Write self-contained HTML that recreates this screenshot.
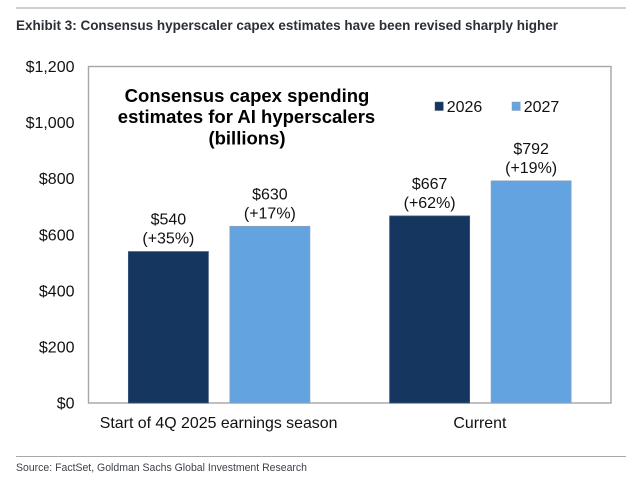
<!DOCTYPE html>
<html>
<head>
<meta charset="utf-8">
<title>Exhibit 3</title>
<style>
html,body{margin:0;padding:0;background:#fff;width:640px;height:493px;overflow:hidden}
svg{display:block;font-family:"Liberation Sans",sans-serif}
</style>
</head>
<body>
<svg id="chart" width="640" height="493" viewBox="0 0 640 493" xmlns="http://www.w3.org/2000/svg">
  <rect width="640" height="493" fill="#ffffff"/>
  <line x1="16" x2="626" y1="8" y2="8" stroke="#b5b5b5" stroke-width="1.2"/>
  <text x="16" y="30" font-size="14" font-weight="700" fill="#2b2f38" textLength="542" lengthAdjust="spacingAndGlyphs">Exhibit 3: Consensus hyperscaler capex estimates have been revised sharply higher</text>
  <rect x="88.5" y="66.5" width="522.5" height="336.5" fill="#ffffff" stroke="#a6a6a6" stroke-width="1.4"/>
  <g id="y-axis"></g>
  <g id="bars"></g>
  <g id="labels"></g>
  <g id="x-axis"></g>
  <g font-size="18.5" font-weight="700" fill="#000000" text-anchor="middle">
    <text x="247" y="102">Consensus capex spending</text>
    <text x="246.5" y="123">estimates for AI hyperscalers</text>
    <text x="247" y="144.5">(billions)</text>
  </g>
  <g id="legend"></g>
  <line x1="16" x2="626" y1="456.5" y2="456.5" stroke="#a8a8a8" stroke-width="1"/>
  <text x="16" y="471" font-size="11" fill="#3f434b" textLength="291" lengthAdjust="spacingAndGlyphs">Source: FactSet, Goldman Sachs Global Investment Research</text>
</svg>
<script>
const categories = ['Start of 4Q 2025 earnings season', 'Current'];
const seriesNames = ['2026', '2027'];
const values2026 = [540, 667];
const values2027 = [630, 792];
const changes2026 = ['+35%', '+62%'];
const changes2027 = ['+17%', '+19%'];
const yTicks = [0, 200, 400, 600, 800, 1000, 1200];

const NS = 'http://www.w3.org/2000/svg';
const plot = { left: 88.5, right: 611, top: 66.5, bottom: 403 };
const colors = ['#14365f', '#62a3e0'];
const strokes = ['#3f5a7c', '#8aa0b8'];
const yMax = yTicks[yTicks.length - 1];
const barWidth = 80;
const barStep = 101.5;

function yScale(v) {
  return plot.bottom - (v / yMax) * (plot.bottom - plot.top);
}
function xCategory(i) {
  return plot.left + (plot.right - plot.left) * (i + 0.5) / categories.length;
}
function xBar(i, s) {
  return xCategory(i) + (s - 0.5) * barStep - barWidth / 2;
}
function make(tag, attrs, text) {
  const el = document.createElementNS(NS, tag);
  for (const k in attrs) el.setAttribute(k, attrs[k]);
  if (text !== undefined) el.textContent = text;
  return el;
}
function fmtMoney(v) {
  return '$' + v.toLocaleString('en-US');
}

const yAxis = document.getElementById('y-axis');
yTicks.forEach(function (t) {
  const el = make('text', { x: 74.5, y: yScale(t) + 5.5, 'font-size': 16, 'text-anchor': 'end', fill: '#111111' }, fmtMoney(t));
  
  
  yAxis.appendChild(el);
});

const barsG = document.getElementById('bars');
const labelsG = document.getElementById('labels');
[values2026, values2027].forEach(function (vals, s) {
  const changes = s === 0 ? changes2026 : changes2027;
  vals.forEach(function (v, i) {
    const x = xBar(i, s);
    const y = yScale(v);
    const bar = make('rect', { x: x, y: y, width: barWidth, height: plot.bottom - y, fill: colors[s], stroke: strokes[s], 'stroke-width': 0.8 });
    
    
    barsG.appendChild(bar);

    const cx = x + barWidth / 2;
    const val = make('text', { x: cx, y: y - 27, 'font-size': 16, 'text-anchor': 'middle', fill: '#111111' }, fmtMoney(v));
    
    
    labelsG.appendChild(val);

    const chg = make('text', { x: cx, y: y - 8, 'font-size': 16, 'text-anchor': 'middle', fill: '#111111' }, '(' + changes[i] + ')');
    
    
    labelsG.appendChild(chg);
  });
});

const xAxis = document.getElementById('x-axis');
categories.forEach(function (c, i) {
  const el = make('text', { x: xCategory(i) - 0.5, y: 428, 'font-size': 15.9, 'text-anchor': 'middle', fill: '#111111' }, c);
  
  
  xAxis.appendChild(el);
});

const legend = document.getElementById('legend');
const legendX = [435, 512];
seriesNames.forEach(function (n, s) {
  const sw = make('rect', { x: legendX[s], y: 102, width: 8.3, height: 8.5, fill: colors[s], stroke: strokes[s], 'stroke-width': 0.5 });
  
  
  legend.appendChild(sw);
  const tx = make('text', { x: legendX[s] + 11.7, y: 112, 'font-size': 16, fill: '#111111' }, n);
  
  
  legend.appendChild(tx);
});
</script>
</body>
</html>
